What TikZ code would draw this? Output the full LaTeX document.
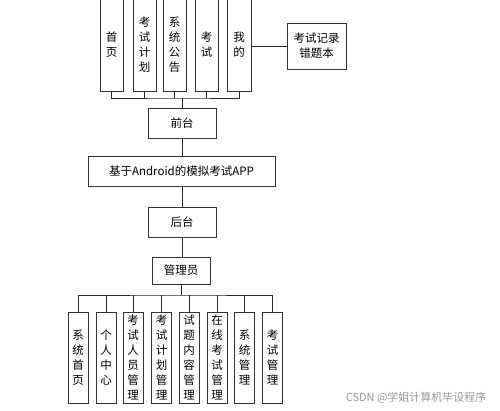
\documentclass[tikz,border=0pt]{standalone}
\usepackage{fontspec}
\setmainfont{Noto Sans CJK SC}
\newfontfamily\wmfont{Noto Sans CJK SC}
\begin{document}
\begin{tikzpicture}[x=1pt,y=-1pt,
  box/.style={draw=black!80, line width=0.8pt, inner sep=0pt, align=center, font=\fontsize{11.5}{15}\selectfont},
  vbox/.style={box, minimum width=#1, minimum height=93pt},
  hbox/.style={box},
  conn/.style={draw=black!85, line width=0.8pt}]
\useasboundingbox (0,0) rectangle (500,410);
% top row
\node[vbox=23pt] (t1) at (111.5,45) {首\\页};
\node[vbox=23pt] (t2) at (144.5,45) {考\\试\\计\\划};
\node[vbox=23pt] (t3) at (174.5,45) {系\\统\\公\\告};
\node[vbox=23pt] (t4) at (206.5,45) {考\\试};
\node[vbox=24pt] (t5) at (239,45) {我\\的};
\node[hbox, minimum width=59pt, minimum height=46pt] (er) at (316.5,46) {考试记录\\错题本};
\node[hbox, minimum width=68pt, minimum height=30pt] (qt) at (182,123) {前台};
\node[hbox, minimum width=187pt, minimum height=30pt] (app) at (181.5,171) {基于Android的模拟考试APP};
\node[hbox, minimum width=68pt, minimum height=30pt] (ht) at (182,222) {后台};
\node[hbox, minimum width=58pt, minimum height=27pt] (gly) at (181,270.5) {管理员};
% bottom row
\foreach \i/\x/\t in {1/78/{系\\统\\首\\页},2/106/{个\\人\\中\\心},3/133/{考\\试\\人\\员\\管\\理},4/161.5/{考\\试\\计\\划\\管\\理},5/189/{试\\题\\内\\容\\管\\理},6/217/{在\\线\\考\\试\\管\\理},7/244.5/{系\\统\\管\\理},8/272.5/{考\\试\\管\\理}}
  \node[box, minimum width=20pt, minimum height=91pt] (b\i) at (\x,357.5) {\t};
% connectors top
\coordinate (busT) at (182,98);
\draw[conn] (t1.south) |- (busT) -| (t5.south);
\foreach \k in {2,3,4} \draw[conn] (t\k.south) -- (t\k.south |- busT);
\draw[conn] (busT) -- (busT |- qt.north);
\draw[conn] (t5.east |- er.west) -- (er.west);
\draw[conn] (qt.south) -- (qt.south |- app.north);
\draw[conn] (qt.south |- app.south) -- (ht.north);
\draw[conn] (ht.south) -- (ht.south |- gly.north);
% connectors bottom
\coordinate (busB) at (181,295);
\draw[conn] (gly.south) -- (busB);
\draw[conn] (b1.north) |- (busB) -| (b8.north);
\foreach \k in {2,...,7} \draw[conn] (b\k.north) -- (b\k.north |- busB);
% watermark
\node[text=black!40, font=\wmfont\fontsize{11}{13}\selectfont, anchor=east] (wm) at (490,398) {CSDN @学姐计算机毕设程序};
\end{tikzpicture}
\end{document}
